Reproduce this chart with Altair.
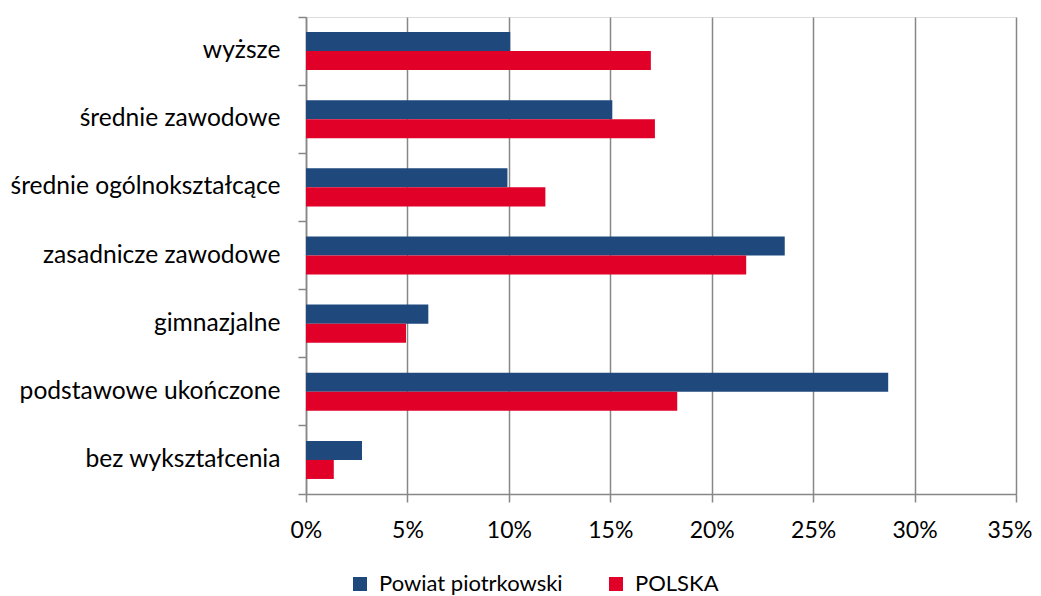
import altair as alt
import pandas as pd

categories = [
    "wyższe",
    "średnie zawodowe",
    "średnie ogólnokształcące",
    "zasadnicze zawodowe",
    "gimnazjalne",
    "podstawowe ukończone",
    "bez wykształcenia",
]
series = ["Powiat piotrkowski", "POLSKA"]
powiat = [0.1007, 0.151, 0.0993, 0.236, 0.0603, 0.287, 0.0276]
polska = [0.170, 0.172, 0.118, 0.217, 0.0493, 0.183, 0.0137]
x_ticks = [0, 0.05, 0.10, 0.15, 0.20, 0.25, 0.30, 0.35]
colors = ["#1f497d", "#e00028"]

rows = []
for c, a, b in zip(categories, powiat, polska):
    rows.append({"kat": c, "seria": series[0], "v": a})
    rows.append({"kat": c, "seria": series[1], "v": b})
df = pd.DataFrame(rows)

FONT = "Lato"
GRAY = "#878787"

chart = alt.Chart(df).mark_bar().encode(
    x=alt.X(
        "v:Q",
        scale=alt.Scale(domain=[0, 0.35], nice=False, zero=True),
        axis=alt.Axis(
            values=x_ticks,
            format=".0%",
            title=None,
            grid=True,
            gridColor=GRAY,
            gridWidth=1.5,
            domainColor=GRAY,
            domainWidth=1.5,
            tickColor=GRAY,
            tickWidth=1.5,
            tickSize=8,
            labelPadding=17,
            labelFlush=True,
            labelFlushOffset=16,
            labelFontSize=23,
            labelColor="#000000",
            labelFont=FONT,
            labelLimit=400,
        ),
    ),
    y=alt.Y(
        "kat:N",
        sort=categories,
        scale=alt.Scale(paddingInner=0, paddingOuter=0),
        axis=alt.Axis(
            title=None,
            bandPosition=1,
            tickExtra=True,
            grid=False,
            domainColor=GRAY,
            domainWidth=1.5,
            tickColor=GRAY,
            tickWidth=1.5,
            tickSize=8,
            labelPadding=18,
            labelFontSize=24.6,
            labelColor="#000000",
            labelFont=FONT,
            labelLimit=400,
        ),
    ),
    yOffset=alt.YOffset(
        "seria:N",
        sort=series,
        scale=alt.Scale(paddingInner=0, paddingOuter=0.79),
    ),
    color=alt.Color(
        "seria:N",
        sort=series,
        scale=alt.Scale(domain=series, range=colors),
        legend=alt.Legend(
            title=None,
            orient="none",
            direction="horizontal",
            legendX=43,
            legendY=556,
            padding=0,
            symbolType="square",
            symbolSize=196,
            symbolStrokeWidth=0,
            symbolOpacity=1,
            labelFontSize=22,
            labelFont=FONT,
            labelColor="#000000",
            labelOffset=8,
            labelLimit=400,
            columnPadding=42,
        ),
    ),
).properties(
    width=710,
    height=477,
    autosize=alt.AutoSizeParams(type="none"),
    padding={"left": 298, "top": 9, "right": 17, "bottom": 102},
).configure_view(
    stroke=None
).configure(
    font=FONT
)

chart.save("out.html", embed_options={"renderer": "svg", "actions": False})
